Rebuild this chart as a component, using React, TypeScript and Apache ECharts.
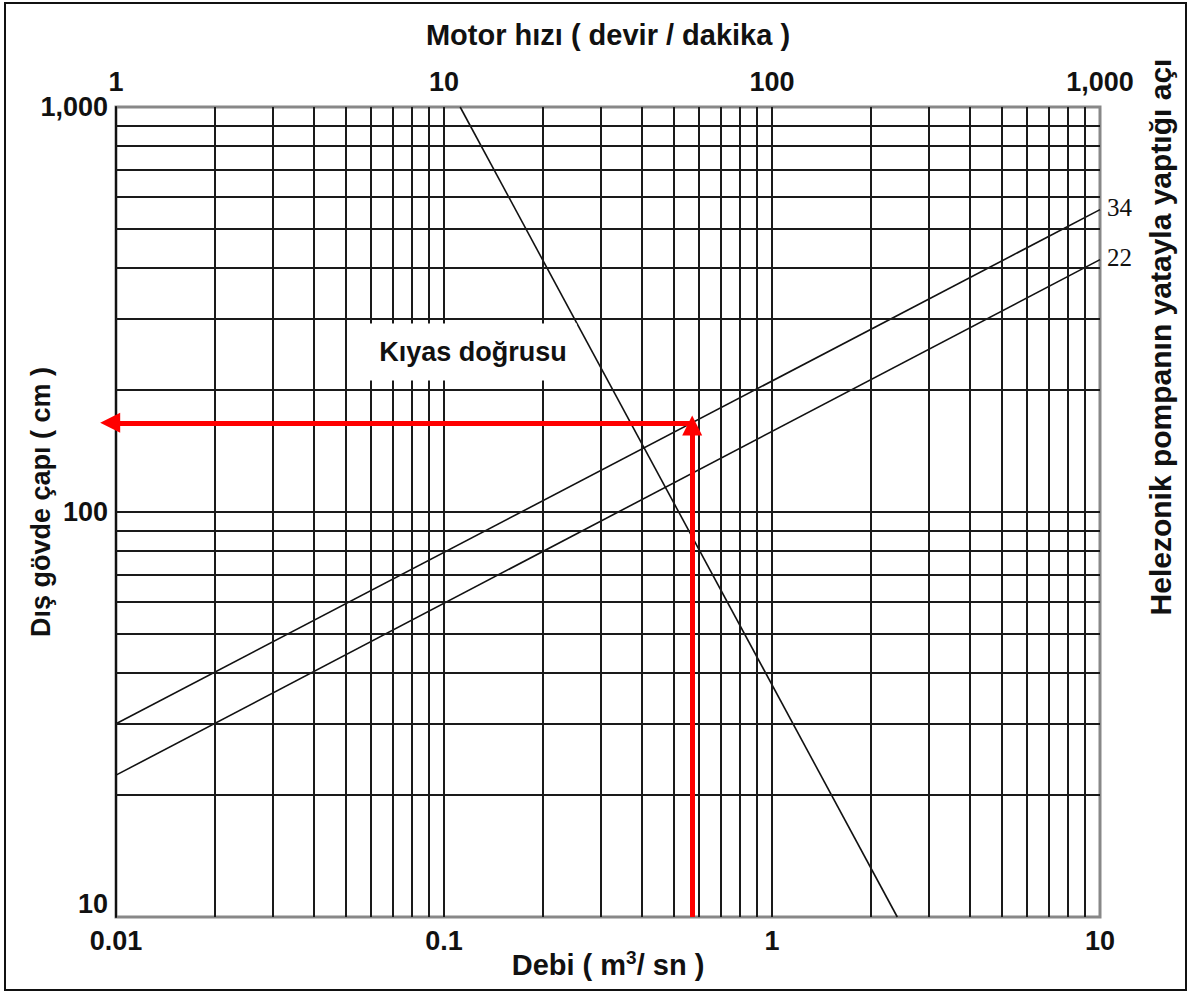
import React, { useEffect, useRef } from "react";
import * as echarts from "echarts";

// ---- data ----
const debiTicks = [0.01, 0.1, 1, 10];
const debiTickLabels = ["0.01", "0.1", "1", "10"];
const motorTicks = [1, 10, 100, 1000];
const motorTickLabels = ["1", "10", "100", "1,000"];
const diameterTicks = [10, 100, 1000];
const diameterTickLabels = ["10", "100", "1,000"];
const gridMultipliers = [1, 2, 3, 4, 5, 6, 7, 8, 9];
const xDecades = [0.01, 0.1, 1];
const yDecades = [10, 100];

const kiyasLine = [
  [0.112, 1000],
  [2.41, 10],
];
const angle34Line = [
  [0.01, 30],
  [10, 558],
];
const angle22Line = [
  [0.01, 22.4],
  [10, 420],
];
const exampleDebi = 0.571;
const exampleDiameter = 166;

const xGridValues = xDecades
  .flatMap((d) => gridMultipliers.map((m) => +(d * m).toPrecision(3)))
  .filter((v) => v > 0.01);
const yGridValues = yDecades
  .flatMap((d) => gridMultipliers.map((m) => d * m))
  .filter((v) => v > 10);

const FONT = '"Liberation Sans", Arial, sans-serif';

const labelFromList = (ticks: number[], labels: string[]) => (v: number) => {
  const i = ticks.findIndex((t) => Math.abs(Math.log10(t) - Math.log10(v)) < 1e-6);
  return i >= 0 ? labels[i] : "";
};

export default function App() {
  const ref = useRef<HTMLDivElement>(null);

  useEffect(() => {
    if (!ref.current) return;
    const chart = echarts.init(ref.current, null, { renderer: "svg" });
    const gridLine = { color: "#1a1a1a", width: 2, type: "solid" as const };
    const axisLabelStyle = {
      fontFamily: FONT,
      fontWeight: "bold" as const,
      fontSize: 27,
      color: "#111",
    };
    const titleStyle = {
      fontFamily: FONT,
      fontWeight: "bold" as const,
      fontSize: 29,
      color: "#111",
    };
    const option: any = {
      animation: false,
      backgroundColor: "#fff",
      grid: {
        left: 116,
        top: 107,
        width: 984,
        height: 810,
        outerBoundsMode: "none",
        containLabel: false,
        show: true,
        borderColor: "#888",
        borderWidth: 3,
        backgroundColor: "transparent",
      },
      xAxis: [
        {
          type: "log",
          logBase: 10,
          min: 0.01,
          max: 10,
          position: "bottom",
          name: "Debi ( m{sup|3}/ sn )",
          nameLocation: "middle",
          nameGap: 31,
          nameMoveOverlap: false,
          nameTextStyle: {
            ...titleStyle,
            rich: {
              sup: {
                fontFamily: FONT,
                fontWeight: "bold",
                fontSize: 19,
                color: "#111",
                verticalAlign: "top",
                padding: [0, 0, 14, 0],
              },
            },
          },
          axisLine: { show: false },
          axisTick: { show: false },
          splitLine: { show: false },
          axisLabel: {
            ...axisLabelStyle,
            margin: 10,
            formatter: labelFromList(debiTicks, debiTickLabels),
          },
        },
        {
          type: "log",
          logBase: 10,
          min: 1,
          max: 1000,
          position: "top",
          name: "Motor hızı ( devir / dakika )",
          nameLocation: "middle",
          nameGap: 58,
          nameMoveOverlap: false,
          nameTextStyle: titleStyle,
          axisLine: { show: false },
          axisTick: { show: false },
          splitLine: { show: false },
          axisLabel: {
            ...axisLabelStyle,
            margin: 12,
            formatter: labelFromList(motorTicks, motorTickLabels),
          },
        },
      ],
      yAxis: [
        {
          type: "log",
          logBase: 10,
          min: 10,
          max: 1000,
          position: "left",
          axisLine: { show: true, lineStyle: { color: "#111", width: 2 } },
          axisTick: { show: false },
          splitLine: { show: false },
          axisLabel: {
            ...axisLabelStyle,
            margin: 8,
            verticalAlignMinLabel: "bottom",
            formatter: labelFromList(diameterTicks, diameterTickLabels),
          },
        },
      ],
      series: [
        {
          name: "grid",
          type: "line",
          data: [],
          silent: true,
          markLine: {
            silent: true,
            symbol: ["none", "none"],
            label: { show: false },
            lineStyle: gridLine,
            animation: false,
            data: [
              ...xGridValues.map((v) => ({ xAxis: v })),
              ...yGridValues.map((v) => ({ yAxis: v })),
            ],
          },
        },
        {
          name: "Kıyas doğrusu",
          type: "line",
          data: kiyasLine,
          showSymbol: false,
          symbol: "none",
          lineStyle: { color: "#111", width: 1.6 },
          z: 4,
        },
        {
          name: "34",
          type: "line",
          data: angle34Line,
          symbol: "none",
          lineStyle: { color: "#111", width: 1.6 },
          z: 4,
          endLabel: {
            show: true,
            formatter: "34",
            fontFamily: '"Liberation Serif", "DejaVu Serif", serif',
            fontSize: 25,
            color: "#111",
            distance: 7,
            offset: [0, -2],
          },
        },
        {
          name: "22",
          type: "line",
          data: angle22Line,
          symbol: "none",
          lineStyle: { color: "#111", width: 1.6 },
          z: 4,
          endLabel: {
            show: true,
            formatter: "22",
            fontFamily: '"Liberation Serif", "DejaVu Serif", serif',
            fontSize: 25,
            color: "#111",
            distance: 7,
            offset: [0, -2],
          },
        },
        {
          name: "arrows",
          type: "lines",
          coordinateSystem: "cartesian2d",
          clip: false,
          symbol: ["none", "triangle"],
          symbolSize: 20,
          z: 6,
          lineStyle: { color: "#ff0000", width: 5, opacity: 1, curveness: 0 },
          data: [
            { coords: [[exampleDebi, 10], [exampleDebi, exampleDiameter * 0.985]] },
            { coords: [[exampleDebi * 1.01, exampleDiameter], [0.0096, exampleDiameter]] },
          ],
        },
      ],
      graphic: [
        {
          type: "rect",
          z: 100,
          silent: true,
          shape: { x: 5, y: 3, width: 1181, height: 987 },
          style: { fill: "none", stroke: "#111", lineWidth: 2 },
        },
        {
          type: "text",
          z: 100,
          x: 473,
          y: 352,
          style: {
            text: "Kıyas doğrusu",
            fontFamily: FONT,
            fontWeight: "bold",
            fontSize: 27,
            fill: "#111",
            align: "center",
            verticalAlign: "middle",
            backgroundColor: "#fff",
            padding: [14, 10, 16, 10],
          },
        },
        {
          type: "text",
          z: 100,
          x: 41,
          y: 502,
          rotation: Math.PI / 2,
          style: {
            text: "Dış gövde çapı ( cm )",
            fontFamily: FONT,
            fontWeight: "bold",
            fontSize: 27,
            fill: "#111",
            align: "center",
            verticalAlign: "middle",
          },
        },
        {
          type: "text",
          z: 100,
          x: 1160,
          y: 337,
          rotation: Math.PI / 2,
          style: {
            text: "Helezonik pompanın yatayla yaptığı açı",
            fontFamily: FONT,
            fontWeight: "bold",
            fontSize: 30,
            fill: "#111",
            align: "center",
            verticalAlign: "middle",
          },
        },
      ],
    };
    chart.setOption(option);
    return () => chart.dispose();
  }, []);

  return (
    <div
      ref={ref}
      style={{ position: "fixed", left: 0, top: 0, width: 1194, height: 994, background: "#fff" }}
    />
  );
}
